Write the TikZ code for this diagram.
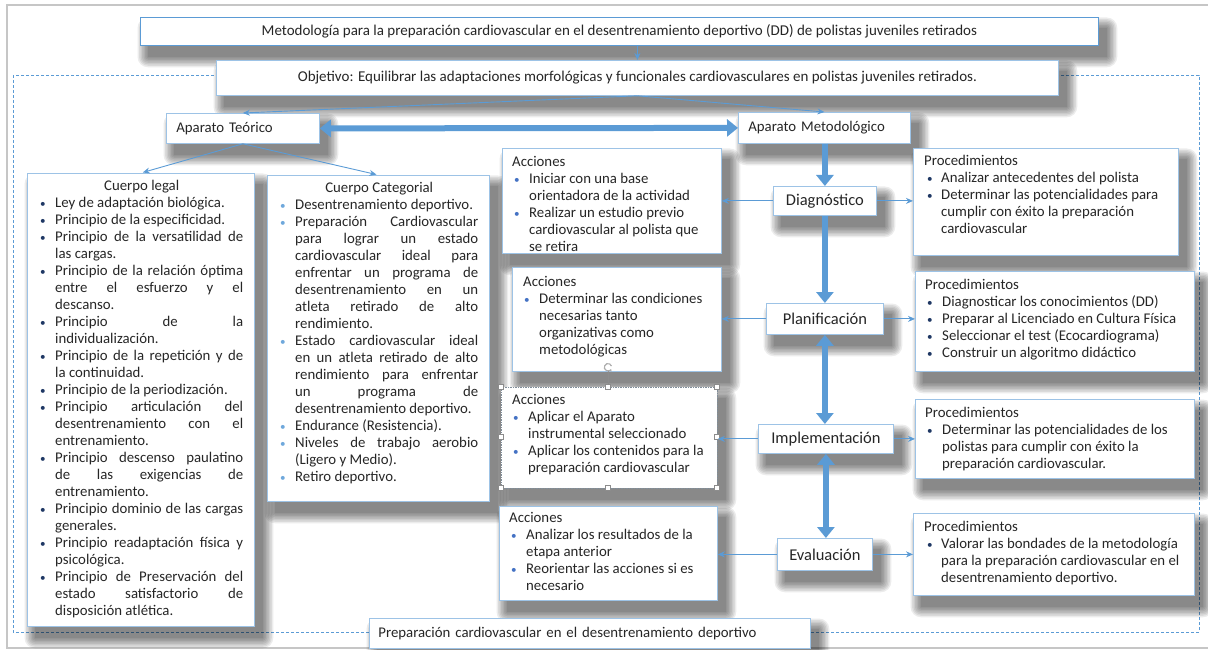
\documentclass[tikz,border=0pt]{standalone}
\usepackage{fontspec}
\setmainfont{Carlito}
\usetikzlibrary{arrows.meta,calc}
\pgfdeclarelayer{frame}
\pgfdeclarelayer{shadow}
\pgfsetlayers{frame,shadow,main}
\definecolor{bdr}{HTML}{9DC3E6}
\definecolor{arr}{HTML}{5B9BD5}
\definecolor{bnav}{HTML}{1F3864}
\definecolor{bmid}{HTML}{4472C4}
\definecolor{blt}{HTML}{6FA8DC}
\definecolor{txtc}{HTML}{262626}
\definecolor{hnd}{HTML}{8C8C8C}
\newcommand{\B}[2][bnav]{\makebox[#2][l]{\textcolor{#1}{\scalebox{0.75}{\textbullet}}}}
\newcommand{\J}[2]{\makebox[#1][s]{#2}}
\newcommand{\I}[1]{\hspace*{#1}}
\newcommand{\shd}[1]{\foreach \r in {0,1.5,...,10.5}{%
  \fill[black, opacity=0.075, rounded corners=\r pt] ($(#1.north west)+(8-\r,11-\r)$) rectangle ($(#1.south east)+(8+\r,11+\r)$);}}
\tikzset{
 box/.style={draw=bdr, line width=0.8pt, fill=white, inner sep=0pt, anchor=north west},
 body/.style={font=\fontsize{14.8}{17}\selectfont, text=txtc},
 txt/.style={body, inner sep=0pt, anchor=north west, align=left},
 stage/.style={box, font=\fontsize{16.5}{20}\selectfont, text=txtc},
 thinar/.style={draw=arr, line width=0.9pt, -{Stealth[length=7pt,width=6pt]}},
 thickar/.style={draw=arr, line width=6pt, -{Triangle[length=11pt,width=17pt]}},
 thickdbl/.style={draw=arr, line width=6pt, {Triangle[length=11pt,width=17pt]}-{Triangle[length=11pt,width=17pt]}},
 handle/.style={draw=hnd, fill=white, line width=0.6pt, minimum size=5pt, inner sep=0pt},
}
\begin{document}
\begin{tikzpicture}[x=1pt,y=-1pt]
\useasboundingbox (0,0) rectangle (1208,650);
% outer frame and dashed frame
\begin{pgfonlayer}{frame}
\draw[gray!45, line width=1.2pt] (1230,5) -- (7,5) -- (7,648) -- (1230,648);
\draw[arr, line width=0.8pt, dash pattern=on 3pt off 2pt] (13,75) rectangle (1199,632);
\end{pgfonlayer}

% top boxes
\node[box, draw=arr, minimum width=958, minimum height=28, font=\fontsize{15}{17}\selectfont, text=txtc] (top) at (140,17)
 {Metodología para la preparación cardiovascular en el desentrenamiento deportivo (DD) de polistas juveniles retirados};
\node[box, minimum width=842, minimum height=35, font=\fontsize{15}{17}\selectfont, text=txtc] (obj) at (216,60)
 {Objetivo: Equilibrar las adaptaciones morfológicas y funcionales cardiovasculares en polistas juveniles retirados.};
\node[box, body, minimum width=153, minimum height=30, text width=133, align=left] (teo) at (166,113) {Aparato Teórico};
\node[box, body, minimum width=172, minimum height=31, text width=152, align=left] (met) at (738,112) {Aparato Metodológico};

% left column boxes
\node[box, minimum width=227, minimum height=453] (legal) at (27,173) {};
\node[box, minimum width=222, minimum height=326] (categ) at (267,175) {};

% acciones
\node[box, minimum width=219, minimum height=105] (a1) at (502,148) {};
\node[box, minimum width=209, minimum height=104] (a2) at (512,267) {};
\node[box, draw=hnd!80!arr, dash pattern=on 1.5pt off 1pt, minimum width=216, minimum height=101] (a3) at (501,387) {};
\node[box, minimum width=218, minimum height=94] (a4) at (499,506) {};

% procedimientos
\node[box, minimum width=265, minimum height=107] (p1) at (913,148) {};
\node[box, minimum width=279, minimum height=100] (p2) at (915,271) {};
\node[box, minimum width=279, minimum height=79] (p3) at (915,399) {};
\node[box, minimum width=281, minimum height=82] (p4) at (913,513) {};

% stages
\node[stage, minimum width=103, minimum height=29] (diag) at (773,186) {Diagnóstico};
\node[stage, minimum width=117, minimum height=31] (plan) at (766,303) {Planificación};
\node[stage, minimum width=135, minimum height=29] (impl) at (758,424) {Implementación};
\node[stage, minimum width=95, minimum height=32] (eval) at (777,538) {Evaluación};

% bottom
\node[box, body, minimum width=441, minimum height=30, text width=423, align=left] (bot) at (369,618)
 {Preparación cardiovascular en el desentrenamiento deportivo};

% soft shadows
\begin{pgfonlayer}{shadow}
\foreach \n in {top,obj,teo,met,legal,categ,a1,a2,a3,a4,p1,p2,p3,p4,diag,plan,impl,eval,bot}{\shd{\n}}
\end{pgfonlayer}

% texts
\node[txt] (tlegal) at (40,178.6) {\strut\makebox[203pt]{Cuerpo legal}\\
\B{15pt}Ley de adaptación biológica.\\
\B{15pt}Principio de la especificidad.\\
\B{15pt}\J{188pt}{Principio de la versatilidad de}\\
\I{15pt}las cargas.\\
\B{15pt}\J{188pt}{Principio de la relación óptima}\\
\I{15pt}\J{188pt}{entre el esfuerzo y el}\\
\I{15pt}descanso.\\
\B{15pt}\J{188pt}{Principio de la}\\
\I{15pt}individualización.\\
\B{15pt}\J{188pt}{Principio de la repetición y de}\\
\I{15pt}la continuidad.\\
\B{15pt}Principio de la periodización.\\
\B{15pt}\J{188pt}{Principio articulación del}\\
\I{15pt}\J{188pt}{desentrenamiento con el}\\
\I{15pt}entrenamiento.\\
\B{15pt}\J{188pt}{Principio descenso paulatino}\\
\I{15pt}\J{188pt}{de las exigencias de}\\
\I{15pt}entrenamiento.\\
\B{15pt}\J{188pt}{Principio dominio de las cargas}\\
\I{15pt}generales.\\
\B{15pt}\J{188pt}{Principio readaptación física y}\\
\I{15pt}psicológica.\\
\B{15pt}\J{188pt}{Principio de Preservación del}\\
\I{15pt}\J{188pt}{estado satisfactorio de}\\
\I{15pt}disposición atlética.};

\node[txt] (tcateg) at (280,180.6) {\strut\makebox[198pt]{Cuerpo Categorial}\\
\B[blt]{15pt}Desentrenamiento deportivo.\\
\B[blt]{15pt}\J{183pt}{Preparación Cardiovascular}\\
\I{15pt}\J{183pt}{para lograr un estado}\\
\I{15pt}\J{183pt}{cardiovascular ideal para}\\
\I{15pt}\J{183pt}{enfrentar un programa de}\\
\I{15pt}\J{183pt}{desentrenamiento en un}\\
\I{15pt}\J{183pt}{atleta retirado de alto}\\
\I{15pt}rendimiento.\\
\B[blt]{15pt}\J{183pt}{Estado cardiovascular ideal}\\
\I{15pt}\J{183pt}{en un atleta retirado de alto}\\
\I{15pt}\J{183pt}{rendimiento para enfrentar}\\
\I{15pt}\J{183pt}{un programa de}\\
\I{15pt}desentrenamiento deportivo.\\
\B[blt]{15pt}Endurance (Resistencia).\\
\B[blt]{15pt}\J{183pt}{Niveles de trabajo aerobio}\\
\I{15pt}(Ligero y Medio).\\
\B[blt]{15pt}Retiro deportivo.};

\node[txt] (ta1) at (512,154.6) {\strut Acciones\\
\I{2pt}\B[bmid]{15pt}Iniciar con una base\\
\I{17pt}orientadora de la actividad\\
\I{2pt}\B[bmid]{15pt}Realizar un estudio previo\\
\I{17pt}cardiovascular al polista que\\
\I{17pt}se retira};

\node[txt] (ta2) at (523,274.6) {\strut Acciones\\
\I{1pt}\B[bmid]{15pt}Determinar las condiciones\\
\I{16pt}necesarias tanto\\
\I{16pt}organizativas como\\
\I{16pt}metodológicas};

\node[txt] (ta3) at (512,392.6) {\strut Acciones\\
\I{1pt}\B[bmid]{15pt}Aplicar el Aparato\\
\I{16pt}instrumental seleccionado\\
\I{1pt}\B[bmid]{15pt}Aplicar los contenidos para la\\
\I{16pt}preparación cardiovascular};

\node[txt] (ta4) at (509,510.6) {\strut Acciones\\
\I{2pt}\B[bmid]{15pt}Analizar los resultados de la\\
\I{17pt}etapa anterior\\
\I{2pt}\B[bmid]{15pt}Reorientar las acciones si es\\
\I{17pt}necesario};

\node[txt] (tp1) at (924,153.6) {\strut Procedimientos\\
\I{3pt}\B{14pt}Analizar antecedentes del polista\\
\I{3pt}\B{14pt}Determinar las potencialidades para\\
\I{17pt}cumplir con éxito la preparación\\
\I{17pt}cardiovascular};

\node[txt] (tp2) at (925,277.6) {\strut Procedimientos\\
\I{2pt}\B{15pt}Diagnosticar los conocimientos (DD)\\
\I{2pt}\B{15pt}Preparar al Licenciado en Cultura Física\\
\I{2pt}\B{15pt}Seleccionar el test (Ecocardiograma)\\
\I{2pt}\B{15pt}Construir un algoritmo didáctico};

\node[txt] (tp3) at (925,405.6) {\strut Procedimientos\\
\I{2pt}\B{15pt}Determinar las potencialidades de los\\
\I{17pt}polistas para cumplir con éxito la\\
\I{17pt}preparación cardiovascular.};

\node[txt] (tp4) at (924,519.6) {\strut Procedimientos\\
\I{3pt}\B{14pt}Valorar las bondades de la metodología\\
\I{17pt}para la preparación cardiovascular en el\\
\I{17pt}desentrenamiento deportivo.};

% selection handles on a3
\coordinate (rot) at (608,367);
\draw[hnd, line width=0.6pt] (608,371) -- (608,387);
\draw[hnd!70, line width=1.2pt, -{Stealth[length=2.5pt,width=3pt]}] ($(rot)+(3.5,-1)$) arc[start angle=20, end angle=330, radius=3.7pt];
\foreach \hx/\hy [count=\k] in {501/387,608/387,717/387,501/437,717/437,501/488,608/488,717/488}
  \node[handle] (h\k) at (\hx,\hy) {};

% connectors
\draw[thinar] (obj.north |- top.south) -- (obj.north);
\draw[thinar] (obj.south) -- (teo.north);
\draw[thinar] (obj.south) -- (met.north);
\draw[thickdbl] (teo.east) -- (met.west);
\draw[thinar, shorten >=2pt] (teo.south) -- (legal.north);
\draw[thinar, shorten >=2pt] (teo.south) -- (categ.north);
\draw[thickar] (diag.north |- met.south) -- (diag.north);
\draw[thickar] (diag.south) -- (diag.south |- plan.north);
\draw[thickdbl] (plan.south) -- (plan.south |- impl.north);
\draw[thickdbl] (impl.south) -- (impl.south |- eval.north);
\draw[thinar] (diag.west) -- (diag.west -| a1.east);
\draw[thinar] (plan.west) -- (plan.west -| a2.east);
\draw[thinar] (impl.west) -- (impl.west -| a3.east);
\draw[thinar] (eval.west) -- (eval.west -| a4.east);
\draw[thinar] (diag.east) -- (diag.east -| p1.west);
\draw[thinar] (plan.east) -- (plan.east -| p2.west);
\draw[thinar] (impl.east) -- (impl.east -| p3.west);
\draw[thinar] (eval.east) -- (eval.east -| p4.west);
\end{tikzpicture}
\end{document}
